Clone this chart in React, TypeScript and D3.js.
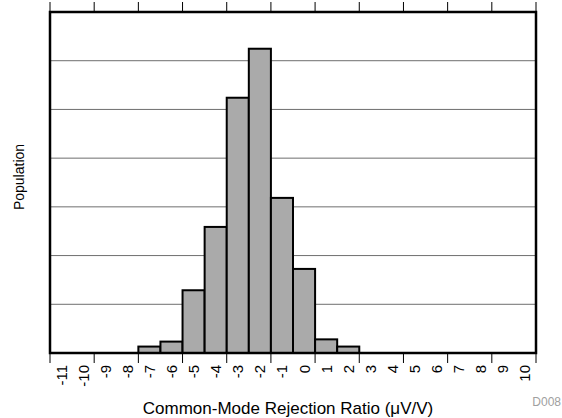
import * as d3 from 'd3'
import { useEffect, useRef } from 'react'

// histogram bins (µV/V) and the population
const bins: number[] = [-11, -10, -9, -8, -7, -6, -5, -4, -3, -2, -1, 0, 1, 2, 3, 4, 5, 6, 7, 8, 9, 10]
const counts: number[] = [0, 0, 0, 0, 6.6, 11.7, 64.4, 129.4, 262, 312.3, 159.2, 86.3, 14, 6.6, 0, 0, 0, 0, 0, 0, 0, 0]
const gridValues: number[] = [50, 100, 150, 200, 250, 300]

const font = '"Liberation Sans", Arial, sans-serif'

export default function App(){
  const svgRef = useRef<SVGSVGElement|null>(null)
  const size = { width: 562, height: 418, margin: { top: 12, right: 26, bottom: 65, left: 50 } }

  useEffect(()=>{
    const svg = d3.select(svgRef.current)
    svg.selectAll('*').remove()

    const { width, height, margin } = size
    const x0 = margin.left, x1 = width - margin.right
    const y0 = margin.top, y1 = height - margin.bottom

    const x = d3.scaleBand<number>().domain(bins).range([x0, x1]).padding(0)
    const y = d3.scaleLinear().domain([0, 350]).range([y1, y0])

    // grid
    svg.append('g')
      .attr('stroke', '#6e6e6e')
      .attr('stroke-width', 1)
      .selectAll('line')
      .data(gridValues)
      .join('line')
      .attr('x1', x0).attr('x2', x1)
      .attr('y1', (d: number)=>y(d)).attr('y2', (d: number)=>y(d))

    // bars
    const data = bins.map((b, i)=>({ bin: b, count: counts[i] })).filter(d=>d.count > 0)
    svg.append('g').selectAll('rect')
      .data(data)
      .join('rect')
      .attr('x', d=>x(d.bin)!)
      .attr('y', d=>y(d.count))
      .attr('width', x.bandwidth())
      .attr('height', d=>y(0) - y(d.count))
      .attr('fill', '#aaaaaa')
      .attr('stroke', '#000')
      .attr('stroke-width', 2)

    // ticks on band edges, every second bin, top and bottom
    const tickX = d3.range(0, bins.length + 1, 2).map(i=> x0 + i * x.step())
    const ticks = svg.append('g').attr('stroke', '#000').attr('stroke-width', 1)
    ticks.selectAll('line.t').data(tickX).join('line')
      .attr('x1', d=>d).attr('x2', d=>d).attr('y1', y0 - 10).attr('y2', y0)
    ticks.selectAll('line.b').data(tickX).join('line')
      .attr('x1', d=>d).attr('x2', d=>d).attr('y1', y1).attr('y2', y1 + 10)

    // frame
    svg.append('rect')
      .attr('x', x0).attr('y', y0)
      .attr('width', x1 - x0).attr('height', y1 - y0)
      .attr('fill', 'none').attr('stroke', '#000').attr('stroke-width', 2.5)

    // tick labels
    svg.append('g').selectAll('text')
      .data(bins)
      .join('text')
      .attr('transform', d=>`translate(${x(d)! + x.bandwidth()/2},${y1 + 12}) rotate(-90)`)
      .attr('text-anchor', 'end')
      .attr('dominant-baseline', 'central')
      .attr('font-family', font)
      .attr('font-size', 15)
      .attr('fill', '#000')
      .text(d=>String(d))

    // axis titles
    svg.append('text')
      .attr('transform', `translate(19,177) rotate(-90)`)
      .attr('text-anchor', 'middle')
      .attr('dominant-baseline', 'central')
      .attr('font-family', font).attr('font-size', 14)
      .text('Population')

    svg.append('text')
      .attr('x', 288).attr('y', 414)
      .attr('text-anchor', 'middle')
      .attr('font-family', font).attr('font-size', 17)
      .text('Common-Mode Rejection Ratio (μV/V)')

    svg.append('text')
      .attr('x', 561).attr('y', 406)
      .attr('text-anchor', 'end')
      .attr('font-family', font).attr('font-size', 12)
      .attr('fill', '#a0a0a0')
      .text('D008')
  }, [])

  return (
    <div style={{ position: 'fixed', left: 0, top: 0 }}>
      <svg ref={svgRef} width={size.width} height={size.height} style={{ display: 'block', background: '#fff' }}></svg>
    </div>
  )
}
